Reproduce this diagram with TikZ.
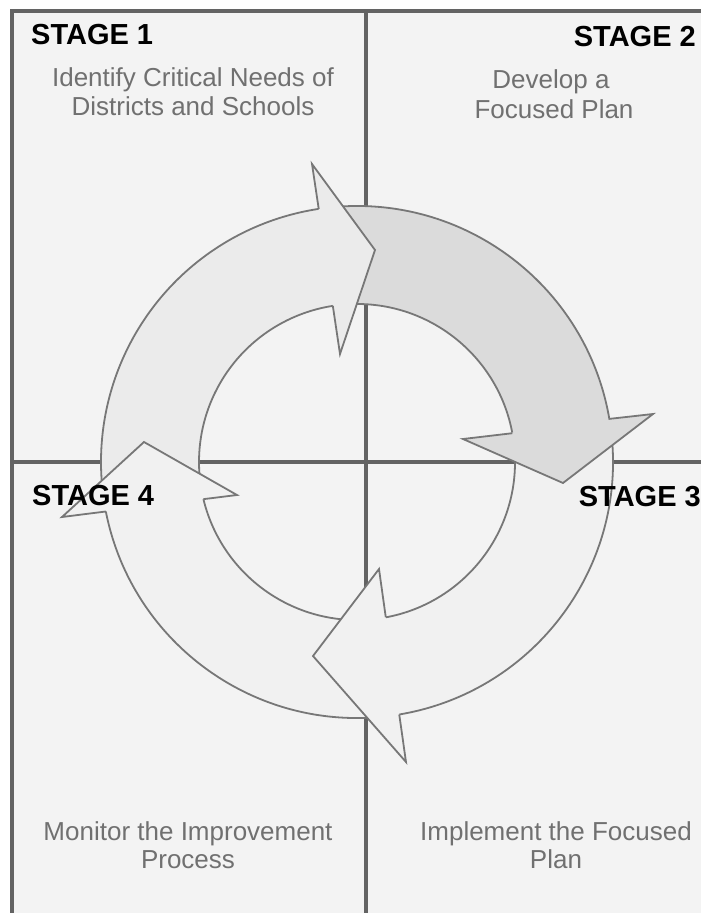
\documentclass[tikz,border=0pt]{standalone}
\usepackage{fontspec}
\setmainfont{Liberation Sans}
\definecolor{bgc}{HTML}{F3F3F3}
\definecolor{linec}{HTML}{636363}
\definecolor{arrc}{HTML}{777777}
\definecolor{fillA}{HTML}{EBEBEB}
\definecolor{fillB}{HTML}{DBDBDB}
\definecolor{fillC}{HTML}{F1F1F1}
\definecolor{txtc}{HTML}{707070}
\newcommand\Ro{256}
\newcommand\Ri{158}
\newcommand\myshaft[3]{%
  \fill[#1] (#2:\Ro) arc[start angle=#2,end angle=#3,radius=\Ro] -- (#3:\Ri) arc[start angle=#3,end angle=#2,radius=\Ri] -- cycle;
  \draw[arcline] (#2:\Ro) arc[start angle=#2,end angle=#3,radius=\Ro];
  \draw[arcline] (#2:\Ri) arc[start angle=#2,end angle=#3,radius=\Ri];}
\newcommand\myhead[6]{%
  \fill[#1] (#3) -- (#4) -- (#5) -- cycle;
  \draw[headline] (#2:\Ro) -- (#3) -- (#4) -- (#5) -- (#6:\Ri);}
\begin{document}
\begin{tikzpicture}[x=1pt,y=1pt,
  divider/.style={draw=linec,line width=4pt},
  arcline/.style={draw=arrc,line width=1.8pt},
  headline/.style={draw=arrc,line width=1.8pt,line join=miter},
  stagelbl/.style={font=\fontsize{29}{32}\selectfont\bfseries,text=black,inner sep=0pt},
  bodytxt/.style={font=\fontsize{26}{29}\selectfont,text=txtc,inner sep=0pt,anchor=base},
]
\useasboundingbox (0,0) rectangle (701,-913);
\fill[white] (0,0) rectangle (701,-913);
\fill[bgc] (12,-11) rectangle (701,-913);
\draw[divider] (12,-913) -- (12,-11) -- (701,-11);
\draw[divider] (366,-11) -- (366,-913);
\draw[divider] (12,-462) -- (701,-462);

\begin{scope}[shift={(357,-462)}]
  % head points
  \coordinate (h1o) at (-45,298);
  \coordinate (h1t) at (18,212);
  \coordinate (h1i) at (-17,108);
  \coordinate (h2o) at (296,48);
  \coordinate (h2t) at (206,-21);
  \coordinate (h2i) at (106,23);
  \coordinate (h3o) at (49,-300);
  \coordinate (h3t) at (-44,-194);
  \coordinate (h3i) at (22,-107);
  \coordinate (h4o) at (-295,-55);
  \coordinate (h4t) at (-213,20);
  \coordinate (h4i) at (-120,-33);
  % shafts
  \myshaft{fillA}{188}{97}
  \myshaft{fillB}{96}{8.5}
  \myshaft{fillC}{7}{-81.5}
  \myshaft{fillC}{-83}{-170.5}
  % heads
  \myhead{fillA}{98.6}{h1o}{h1t}{h1i}{98.8}
  \myhead{fillB}{9.7}{h2o}{h2t}{h2i}{10.5}
  \myhead{fillC}{-80.5}{h3o}{h3t}{h3i}{-79.5}
  \myhead{fillC}{-168.85}{h4o}{h4t}{h4i}{-166.4}
\end{scope}

\node[stagelbl,anchor=base west] (st1) at (31,-44) {STAGE 1};
\node[stagelbl,anchor=base east] (st2) at (696,-46) {STAGE 2};
\node[stagelbl,anchor=base east] (st3) at (701,-506) {STAGE 3};
\node[stagelbl,anchor=base west] (st4) at (32,-505) {STAGE 4};

\node[bodytxt] (t1a) at (193,-86) {Identify Critical Needs of};
\node[bodytxt] (t1b) at (193,-115) {Districts and Schools};
\node[bodytxt] (t2a) at (551,-88) {Develop a};
\node[bodytxt] (t2b) at (554,-118) {Focused Plan};
\node[bodytxt] (t4a) at (188,-840) {Monitor the Improvement};
\node[bodytxt] (t4b) at (188,-868) {Process};
\node[bodytxt] (t3a) at (556,-840) {Implement the Focused};
\node[bodytxt] (t3b) at (556,-868) {Plan};
\end{tikzpicture}
\end{document}
